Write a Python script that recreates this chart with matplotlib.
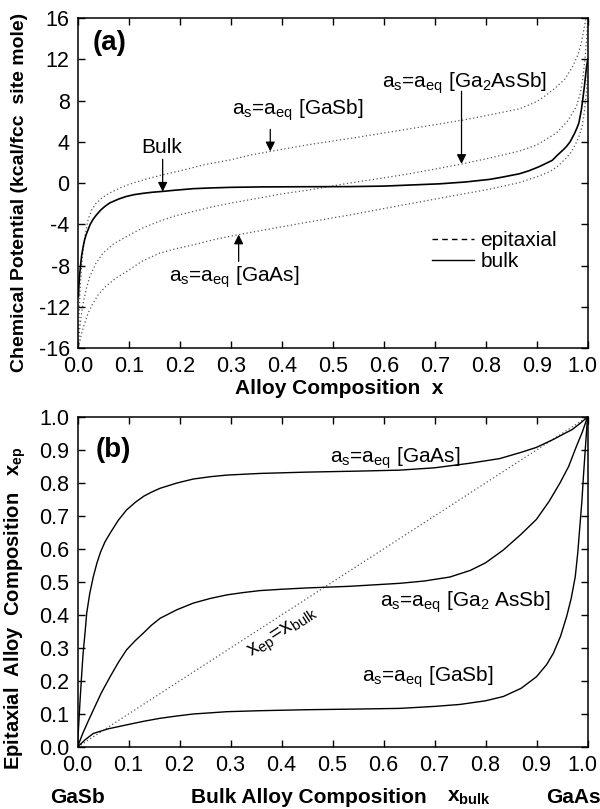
import matplotlib
matplotlib.use('Agg')
import matplotlib.pyplot as plt
from matplotlib.lines import Line2D
from matplotlib.transforms import ScaledTranslation

plt.rcParams['font.family'] = ['Liberation Sans', 'DejaVu Sans']
plt.rcParams['mathtext.default'] = 'regular'
plt.rcParams['axes.unicode_minus'] = False

# ---- panel (a): chemical potential vs alloy composition ----
bulk_x = [0.001, 0.0015, 0.003, 0.005, 0.007, 0.01, 0.013, 0.016, 0.02, 0.024,
          0.029, 0.036, 0.045, 0.052, 0.062, 0.08, 0.095, 0.11, 0.128, 0.145,
          0.167, 0.19, 0.226, 0.26, 0.3, 0.36, 0.45, 0.533, 0.6, 0.664,
          0.709, 0.76, 0.807, 0.83, 0.866, 0.885, 0.905, 0.93, 0.94, 0.951,
          0.958, 0.965, 0.974, 0.978, 0.982, 0.987, 0.99, 0.993, 0.997, 0.9995]
bulk_mu = [-11.0, -10.2, -9.0, -8.0, -7.1, -6.2, -5.5, -5.0, -4.5, -4.0,
           -3.56, -3.1, -2.6, -2.3, -1.94, -1.55, -1.3, -1.13, -1.0, -0.9,
           -0.81, -0.7, -0.55, -0.48, -0.42, -0.38, -0.36, -0.35, -0.3, -0.17,
           -0.08, 0.1, 0.35, 0.55, 0.9, 1.2, 1.6, 2.2, 2.7, 3.2,
           3.55, 4.0, 4.85, 5.3, 5.8, 7.1, 8.2, 9.4, 11.2, 12.0]

gasb_x = [0.0005, 0.001, 0.002, 0.0035, 0.005, 0.0075, 0.01, 0.015, 0.02, 0.027,
          0.035, 0.048, 0.062, 0.085, 0.108, 0.135, 0.167, 0.21, 0.25, 0.3,
          0.337, 0.376, 0.45, 0.55, 0.65, 0.755, 0.807, 0.866, 0.9, 0.92,
          0.938, 0.955, 0.97, 0.98, 0.987, 0.993, 0.996]
gasb_mu = [-16.0, -14.5, -13.0, -11.0, -9.5, -7.8, -6.5, -4.8, -3.5, -2.6,
           -2.0, -1.4, -0.97, -0.42, 0.0, 0.4, 0.8, 1.3, 1.8, 2.25,
           2.7, 3.05, 3.7, 4.45, 5.25, 6.1, 6.6, 7.2, 7.9, 8.6,
           9.3, 10.1, 11.3, 12.4, 13.6, 15.2, 16.0]

ga2assb_x = [0.0005, 0.002, 0.005, 0.01, 0.016, 0.023, 0.035, 0.049, 0.07, 0.095,
             0.125, 0.16, 0.19, 0.226, 0.26, 0.3, 0.356, 0.4, 0.45, 0.533,
             0.6, 0.65, 0.7, 0.755, 0.81, 0.866, 0.9, 0.938, 0.96, 0.977,
             0.985, 0.99, 0.995, 0.998, 0.9995]
ga2assb_mu = [-16.0, -14.9, -13.3, -11.7, -10.3, -9.1, -7.8, -6.8, -5.9, -5.2,
              -4.4, -3.7, -3.2, -2.76, -2.35, -1.95, -1.45, -1.05, -0.7, 0.0,
              0.5, 0.9, 1.35, 1.87, 2.45, 3.1, 3.7, 4.85, 6.0, 7.4,
              8.7, 10.2, 12.5, 14.5, 16.0]

gaas_x = [0.0005, 0.003, 0.007, 0.013, 0.02, 0.029, 0.04, 0.055, 0.075, 0.095,
          0.125, 0.16, 0.19, 0.226, 0.27, 0.31, 0.36, 0.45, 0.533, 0.63,
          0.729, 0.807, 0.866, 0.905, 0.925, 0.94, 0.957, 0.967, 0.975, 0.983,
          0.989, 0.993, 0.997, 0.999]
gaas_mu = [-16.0, -15.5, -14.6, -13.6, -12.6, -11.7, -10.8, -10.0, -9.2, -8.6,
           -7.6, -6.8, -6.4, -6.0, -5.45, -5.05, -4.6, -3.8, -3.1, -2.2,
           -1.3, -0.6, 0.05, 0.7, 1.1, 1.6, 2.4, 3.0, 3.7, 4.6,
           5.6, 7.0, 8.8, 10.5]

# ---- panel (b): epitaxial vs bulk composition ----
b_gaas_x = [0.0, 0.003, 0.005, 0.008, 0.011, 0.015, 0.018, 0.024, 0.031, 0.038,
            0.045, 0.054, 0.064, 0.08, 0.096, 0.113, 0.13, 0.146, 0.162, 0.195,
            0.227, 0.26, 0.293, 0.358, 0.45, 0.55, 0.632, 0.7, 0.77, 0.828,
            0.87, 0.9, 0.933, 0.955, 0.97, 0.985, 1.0]
b_gaas_y = [0.0, 0.085, 0.14, 0.215, 0.284, 0.35, 0.405, 0.465, 0.516, 0.557,
            0.59, 0.622, 0.648, 0.687, 0.718, 0.741, 0.76, 0.773, 0.784, 0.8,
            0.812, 0.819, 0.824, 0.829, 0.833, 0.836, 0.839, 0.846, 0.86, 0.874,
            0.893, 0.908, 0.932, 0.95, 0.962, 0.98, 1.0]

b_ga2assb_x = [0.0, 0.01, 0.02, 0.031, 0.047, 0.064, 0.08, 0.096, 0.113, 0.129,
               0.145, 0.162, 0.195, 0.227, 0.26, 0.293, 0.325, 0.358, 0.4, 0.45,
               0.534, 0.632, 0.68, 0.73, 0.77, 0.8, 0.835, 0.87, 0.9, 0.925,
               0.946, 0.963, 0.978, 0.99, 1.0]
b_ga2assb_y = [0.0, 0.04, 0.075, 0.112, 0.165, 0.213, 0.256, 0.294, 0.322, 0.345,
               0.369, 0.39, 0.416, 0.436, 0.45, 0.461, 0.468, 0.474, 0.478, 0.482,
               0.487, 0.496, 0.503, 0.515, 0.535, 0.558, 0.597, 0.645, 0.69, 0.745,
               0.8, 0.85, 0.91, 0.955, 1.0]

b_gasb_x = [0.0, 0.015, 0.031, 0.06, 0.096, 0.13, 0.162, 0.195, 0.227, 0.293,
            0.358, 0.45, 0.55, 0.632, 0.7, 0.75, 0.8, 0.835, 0.87, 0.9,
            0.92, 0.933, 0.947, 0.959, 0.968, 0.976, 0.981, 0.985, 0.989, 0.992,
            0.996, 1.0]
b_gasb_y = [0.0, 0.022, 0.041, 0.055, 0.067, 0.078, 0.087, 0.094, 0.1, 0.107,
            0.11, 0.113, 0.115, 0.117, 0.123, 0.129, 0.14, 0.153, 0.178, 0.213,
            0.25, 0.284, 0.335, 0.395, 0.45, 0.516, 0.59, 0.668, 0.745, 0.82,
            0.91, 1.0]

diag = [0.0, 1.0]

xticks = [0.0, 0.1, 0.2, 0.3, 0.4, 0.5, 0.6, 0.7, 0.8, 0.9, 1.0]
a_yticks = [-16, -12, -8, -4, 0, 4, 8, 12, 16]
b_yticks = [0.0, 0.1, 0.2, 0.3, 0.4, 0.5, 0.6, 0.7, 0.8, 0.9, 1.0]

TICK_FS = 15.5
LAB_FS = 15
ANN_FS = 15
DOT = dict(color='#555555', lw=0.9, linestyle=(0, (1, 2)))
ARROW = dict(arrowstyle='-|>', color='k', lw=0.9, mutation_scale=14,
             shrinkA=0, shrinkB=0)


def style_axes(ax, fig):
    ax.tick_params(direction='in', length=5, width=1, top=True, right=True,
                   labelsize=TICK_FS, pad=6)
    for s in ax.spines.values():
        s.set_linewidth(1.1)
    # pull the last x label ("1.0") a little inward so it stays on the page
    lab = ax.xaxis.get_major_ticks()[-1].label1
    lab.set_transform(lab.get_transform() + ScaledTranslation(-4 / 72, 0, fig.dpi_scale_trans))


fig = plt.figure(figsize=(6, 8.09), dpi=100)

# ---------------- (a) ----------------
ax1 = fig.add_axes([78 / 600, 1 - 348 / 809, 510 / 600, 330 / 809])
ax1.plot(gasb_x, gasb_mu, **DOT)
ax1.plot(ga2assb_x, ga2assb_mu, **DOT)
ax1.plot(gaas_x, gaas_mu, **DOT)
ax1.plot(bulk_x, bulk_mu, color='k', lw=1.2)
ax1.set_xlim(0, 1)
ax1.set_ylim(-16, 16)
ax1.set_xticks(xticks)
ax1.set_xticklabels([f'{v:.1f}' for v in xticks])
ax1.set_yticks(a_yticks)
ax1.set_yticklabels([str(v) for v in a_yticks])
style_axes(ax1, fig)
ax1.text(0.513, -0.122, 'Alloy Composition  x', fontsize=LAB_FS, fontweight='bold',
         ha='center', va='center', transform=ax1.transAxes)
ax1.set_ylabel('Chemical Potential (kcal/fcc  site mole)', fontsize=14,
               fontweight='bold')
ax1.yaxis.set_label_coords(-0.098, 0.47)

ax1.text(0.062, 13.6, '(a)', fontsize=20, fontweight='bold', ha='center', va='center')
ax1.text(0.164, 3.4, 'Bulk', fontsize=ANN_FS, ha='center', va='center')
ax1.annotate('', xy=(0.166, -0.84), xytext=(0.166, 2.3), arrowprops=ARROW)
ax1.text(0.431, 7.1, r'a$_s$=a$_{eq}$ [GaSb]', fontsize=ANN_FS, ha='center', va='center')
ax1.annotate('', xy=(0.377, 3.07), xytext=(0.377, 5.2), arrowprops=ARROW)
ax1.text(0.758, 9.7, r'a$_s$=a$_{eq}$ [Ga$_2$AsSb]', fontsize=ANN_FS, ha='center', va='center')
ax1.annotate('', xy=(0.752, 1.85), xytext=(0.752, 8.9), arrowprops=ARROW)
ax1.text(0.307, -9.1, r'a$_s$=a$_{eq}$ [GaAs]', fontsize=ANN_FS, ha='center', va='center')
ax1.annotate('', xy=(0.315, -5.0), xytext=(0.315, -7.6), arrowprops=ARROW)

handles = [Line2D([], [], color='k', lw=1.0, linestyle=(0, (4, 3))),
           Line2D([], [], color='k', lw=1.0)]
ax1.legend(handles, ['epitaxial', 'bulk'], loc='center left',
           bbox_to_anchor=(0.695, 0.293), frameon=False, fontsize=ANN_FS,
           handlelength=2.0, handletextpad=0.3, labelspacing=0.1,
           borderpad=0, borderaxespad=0)

# ---------------- (b) ----------------
ax2 = fig.add_axes([77.5 / 600, 1 - 747 / 809, 510 / 600, 330 / 809])
ax2.plot(diag, diag, **DOT)
ax2.plot(b_gaas_x, b_gaas_y, color='k', lw=1.0)
ax2.plot(b_ga2assb_x, b_ga2assb_y, color='k', lw=1.0)
ax2.plot(b_gasb_x, b_gasb_y, color='k', lw=1.0)
ax2.set_xlim(0, 1)
ax2.set_ylim(0, 1)
ax2.set_xticks(xticks)
ax2.set_xticklabels([f'{v:.1f}' for v in xticks])
ax2.set_yticks(b_yticks)
ax2.set_yticklabels([f'{v:.1f}' for v in b_yticks])
style_axes(ax2, fig)
ax2.set_ylabel(r'Epitaxial  Alloy  Composition   x$_{ep}$', fontsize=14.5,
               fontweight='bold')
ax2.yaxis.set_label_coords(-0.098, 0.42)

ax2.text(0.07, 0.9, '(b)', fontsize=20, fontweight='bold', ha='center', va='center')
ax2.text(0.623, 0.876, r'a$_s$=a$_{eq}$ [GaAs]', fontsize=ANN_FS, ha='center', va='center')
ax2.text(0.76, 0.44, r'a$_s$=a$_{eq}$ [Ga$_2$ AsSb]', fontsize=ANN_FS, ha='center', va='center')
ax2.text(0.687, 0.21, r'a$_s$=a$_{eq}$ [GaSb]', fontsize=ANN_FS, ha='center', va='center')
ax2.text(0.403, 0.345, r'x$_{ep}$=x$_{bulk}$', fontsize=ANN_FS, ha='center', va='center',
         rotation=33, rotation_mode='anchor')

ax2.text(0.0, -0.152, 'GaSb', fontsize=LAB_FS, fontweight='bold', ha='center',
         va='center', transform=ax2.transAxes)
ax2.text(0.918, -0.152, 'GaAs', fontsize=LAB_FS, fontweight='bold', ha='left',
         va='center', transform=ax2.transAxes)
ax2.text(0.454, -0.152, 'Bulk Alloy Composition', fontsize=LAB_FS,
         fontweight='bold', ha='center', va='center', transform=ax2.transAxes)
ax2.text(0.768, -0.152, r'x$_{bulk}$', fontsize=LAB_FS,
         fontweight='bold', ha='center', va='center', transform=ax2.transAxes)

fig.savefig('out.png', dpi=100)
